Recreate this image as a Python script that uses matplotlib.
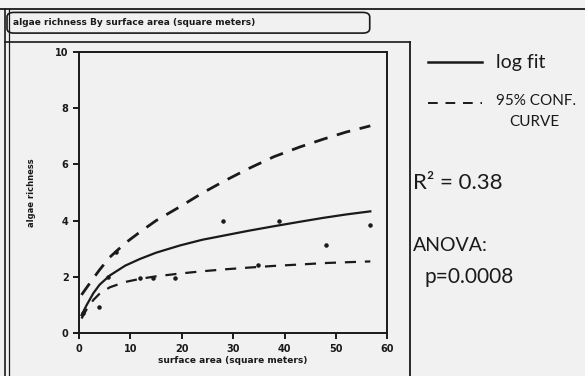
"""
Algae richness vs surface area, log fit with 95% confidence curves
"""

import matplotlib.pyplot as plt
from matplotlib.lines import Line2D
from matplotlib.patches import FancyBboxPatch

# observed samples
area = [0.7, 3.8, 5.7, 7.3, 11.9, 14.5, 18.7, 28.0, 34.9, 39.0, 48.1, 56.6]
richness = [0.7, 0.94, 1.99, 2.9, 1.95, 1.95, 1.95, 3.98, 2.43, 3.98, 3.14, 3.86]

# curves
curve_x = [0.5, 1.5, 2.8, 4.0, 6.0, 9.0, 11.9, 15.0, 19.7, 24.0, 28.5, 33.0, 37.9, 43.0, 47.6, 52.0, 56.7]
fit_y = [0.64, 1.0, 1.42, 1.72, 2.05, 2.4, 2.64, 2.86, 3.12, 3.32, 3.48, 3.64, 3.8, 3.96, 4.1, 4.22, 4.33]
upper_y = [1.36, 1.62, 1.95, 2.25, 2.7, 3.2, 3.6, 4.0, 4.5, 4.98, 5.43, 5.85, 6.27, 6.62, 6.9, 7.15, 7.37]
lower_y = [0.52, 0.85, 1.18, 1.4, 1.63, 1.82, 1.93, 2.02, 2.12, 2.2, 2.27, 2.33, 2.39, 2.44, 2.49, 2.52, 2.55]

x_ticks = [0, 10, 20, 30, 40, 50, 60]
y_ticks = [0, 2, 4, 6, 8, 10]

bg = '#f1f1f1'
ink = '#1a1a1a'

fig = plt.figure(figsize=(5.85, 3.76), dpi=100)
fig.patch.set_facecolor(bg)

ax = fig.add_axes([0.135, 0.114, 0.527, 0.748])
ax.set_facecolor(bg)

ax.plot(curve_x, fit_y, color=ink, lw=1.6)
ax.plot(curve_x, upper_y, color=ink, lw=2.0, dashes=(5, 3.5))
ax.plot(curve_x, lower_y, color=ink, lw=1.6, dashes=(5, 4))
ax.scatter(area, richness, s=5, color=ink, zorder=3)

ax.set_xlim(0, 60)
ax.set_ylim(0, 10)
ax.set_xticks(x_ticks)
ax.set_yticks(y_ticks)
for s in ax.spines.values():
    s.set_color(ink)
    s.set_linewidth(1.4)
ax.tick_params(colors=ink, labelsize=7, width=1.4, length=4)
for lab in ax.get_xticklabels() + ax.get_yticklabels():
    lab.set_fontweight('bold')
ax.set_xlabel('surface area (square meters)', fontsize=6.5, fontweight='bold', color=ink, labelpad=2)
ax.set_ylabel('algae richness', fontsize=6, fontweight='bold', color=ink, labelpad=14)

# window frame of the scanned printout
fig.add_artist(Line2D([0, 1], [0.976, 0.976], color=ink, lw=1.3))
fig.add_artist(Line2D([0.009, 0.009], [0, 0.976], color=ink, lw=1.2))
fig.add_artist(Line2D([0.015, 0.015], [0, 0.976], color=ink, lw=0.9))
fig.add_artist(Line2D([0.009, 0.701], [0.888, 0.888], color=ink, lw=1.2))
fig.add_artist(Line2D([0.701, 0.701], [0, 0.888], color=ink, lw=1.3))

# title box
box = FancyBboxPatch((0.012, 0.912), 0.62, 0.055, boxstyle='round,pad=0,rounding_size=0.012',
                     transform=fig.transFigure, fill=False, ec=ink, lw=1.2)
fig.add_artist(box)
fig.text(0.022, 0.940, 'algae richness By surface area (square meters)', fontsize=6.5,
         fontweight='bold', color=ink, va='center', ha='left')

# handwritten notes
hand = dict(family=['Lato', 'DejaVu Sans'], weight='normal', color=ink)
fig.add_artist(Line2D([0.732, 0.824], [0.835, 0.835], color=ink, lw=1.8))
fig.text(0.848, 0.835, 'log fit', fontsize=14, va='center', **hand)
fig.add_artist(Line2D([0.732, 0.824], [0.726, 0.726], color=ink, lw=1.4, dashes=(5, 4)))
fig.text(0.848, 0.731, '95% CONF.', fontsize=11, va='center', **hand)
fig.text(0.870, 0.675, 'CURVE', fontsize=11, va='center', **hand)
fig.text(0.706, 0.513, 'R² = 0.38', fontsize=16, va='center', **hand)
fig.text(0.706, 0.348, 'ANOVA:', fontsize=14, va='center', **hand)
fig.text(0.726, 0.263, 'p=0.0008', fontsize=15, va='center', **hand)

plt.savefig('out.png', dpi=100, facecolor=bg)
